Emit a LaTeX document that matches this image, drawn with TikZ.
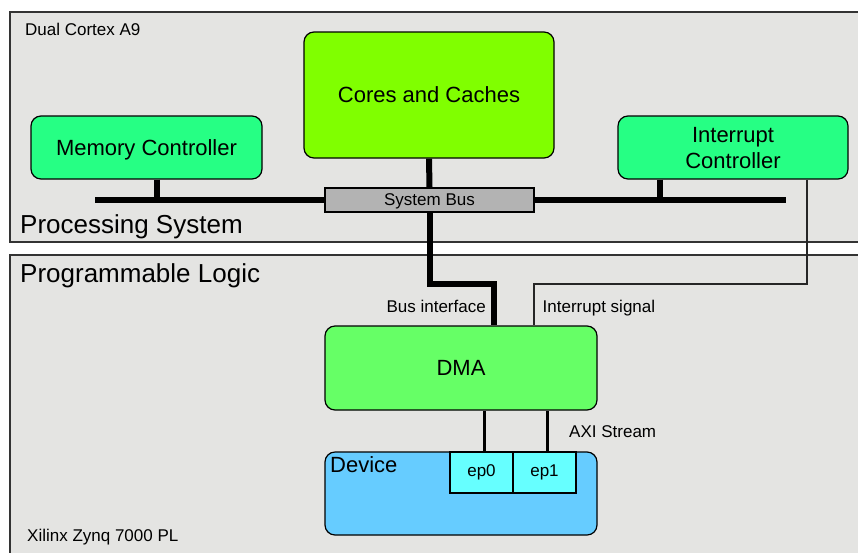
\documentclass[tikz,border=0pt]{standalone}
\usepackage{fontspec}
\setmainfont{Liberation Sans}
\definecolor{regionbg}{HTML}{E4E4E2}
\definecolor{coregreen}{HTML}{80FF00}
\definecolor{ctrlgreen}{HTML}{26FF84}
\definecolor{dmagreen}{HTML}{66FF66}
\definecolor{devblue}{HTML}{66CCFF}
\definecolor{epcyan}{HTML}{66FFFF}
\definecolor{busgray}{HTML}{B3B3B3}
\newcommand{\bigfont}{\fontsize{22}{26}\selectfont}
\newcommand{\smallfont}{\fontsize{17}{20}\selectfont}
\tikzstyle{region}=[draw=black!80, fill=regionbg, line width=1.3pt]
\tikzstyle{block}=[draw, rounded corners=10pt, line width=1.2pt, inner sep=0pt, align=center, text depth=0pt, font=\bigfont]
\tikzstyle{epbox}=[draw, fill=epcyan, line width=1.2pt, minimum width=63pt, minimum height=41pt, inner sep=0pt, font=\smallfont]
\tikzstyle{bus}=[line width=6pt]
\tikzstyle{wire}=[line width=3pt]
\tikzstyle{signal}=[draw=black!85, line width=1.2pt]
\tikzstyle{lbl}=[inner sep=0pt, anchor=base west, font=\smallfont]

\begin{document}
\begin{tikzpicture}[x=1pt, y=-1pt]
    \useasboundingbox (0,0) rectangle (858,552);
    \clip (0,0) rectangle (858,552);
    \fill[white] (0,0) rectangle (858,552);
    \draw[region] (10,12) rectangle (880,242);
    \draw[region] (10,255) rectangle (880,580);
    \node[lbl] (ps) at (25,35) {Dual Cortex A9};
    \node[lbl, font=\fontsize{26}{30}\selectfont] (pstitle) at (20,233) {Processing System};
    \node[lbl, font=\fontsize{26}{30}\selectfont] (pltitle) at (20,282) {Programmable Logic};
    \node[lbl] (pl) at (27,541) {Xilinx Zynq 7000 PL};
    \node[block, fill=coregreen, minimum width=250pt, minimum height=126pt] (cores) at (429,95) {Cores and Caches};
    \node[block, fill=ctrlgreen, minimum width=231pt, minimum height=63pt] (mem) at (146.5,147.5) {Memory Controller};
    \node[block, fill=ctrlgreen, minimum width=230pt, minimum height=63pt] (intc) at (733,147.5) {Interrupt\\Controller};
    \node[draw, fill=busgray, line width=1.2pt, minimum width=209pt, minimum height=24pt, inner sep=0pt, text depth=0pt, font=\smallfont] (sysbus) at (429.5,200) {System Bus};
    \coordinate (busL) at (95,200);
    \coordinate (busR) at (786,200);
    \draw[bus] (busL) -- (sysbus.west) (sysbus.east) -- (busR);
    \draw[bus] ([xshift=10.5pt]mem.south) -- ([xshift=10.5pt]mem.south |- busL);
    \draw[bus] ([xshift=-73pt]intc.south) -- ([xshift=-73pt]intc.south |- busR);
    \draw[bus] (cores.south) -- (sysbus.north);
    \node[block, fill=dmagreen, minimum width=272pt, minimum height=84pt] (dma) at (461,368) {DMA};
    \node[block, fill=devblue, minimum width=272pt, minimum height=83pt] (dev) at (461,493.5) {};
    \node[lbl, font=\bigfont] (devlbl) at (330,472) {Device};
    \node[epbox] (ep0) at (481.5,472.5) {ep0};
    \node[epbox] (ep1) at (544.5,472.5) {ep1};
    \coordinate (busjog) at (494,284);
    \coordinate (irqjog) at (534,284);
    \draw[bus] (sysbus.south) |- (busjog) -- (busjog |- dma.north);
    \draw[signal] ([xshift=74pt]intc.south) |- (irqjog) -- (irqjog |- dma.north);
    \draw[wire] ([xshift=2.5pt]ep0.north) -- ([xshift=2.5pt]ep0.north |- dma.south);
    \draw[wire] ([xshift=2.5pt]ep1.north) -- ([xshift=2.5pt]ep1.north |- dma.south);
    \node[lbl, anchor=base east] (busif) at (486,312) {Bus interface};
    \node[lbl] (irqsig) at (542.5,312) {Interrupt signal};
    \node[lbl] (axi) at (569,437) {AXI Stream};
\end{tikzpicture}
\end{document}
